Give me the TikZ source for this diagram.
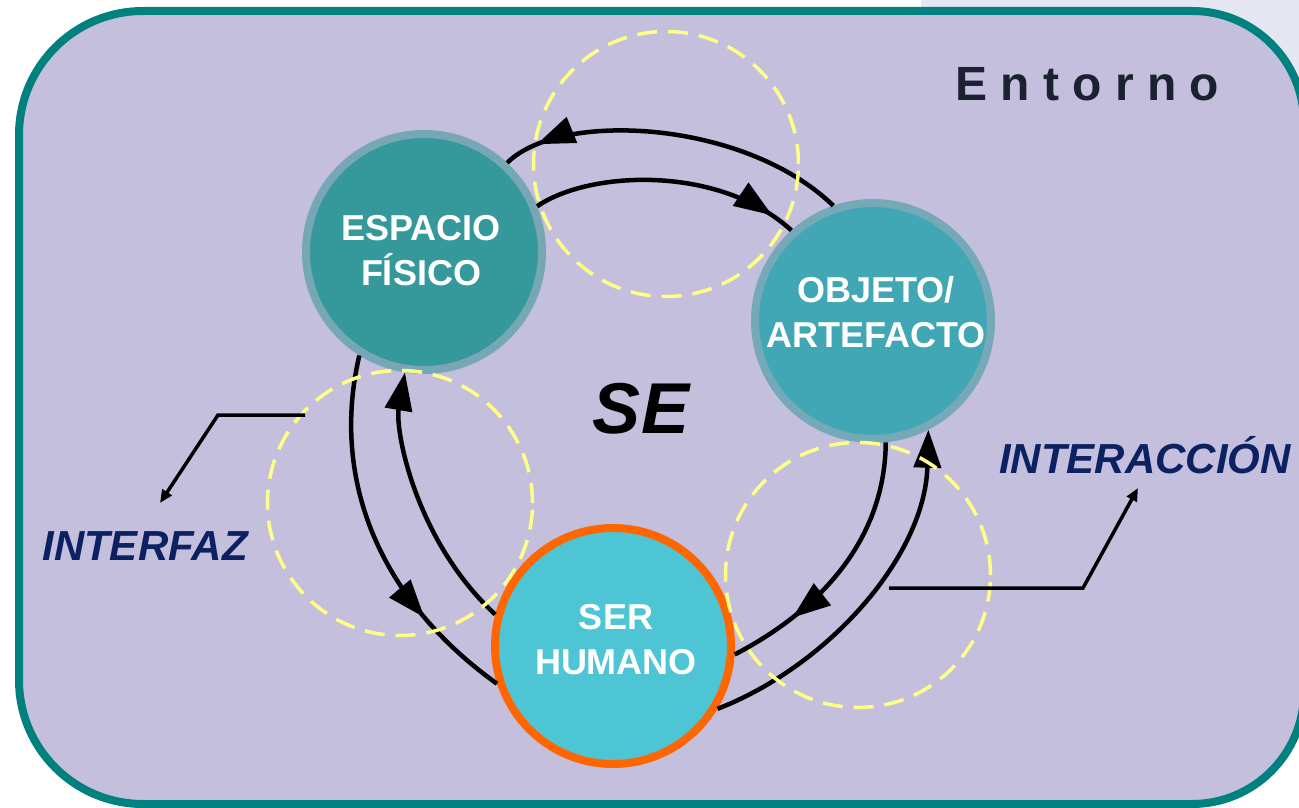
\documentclass[tikz,border=0pt]{standalone}
\usepackage{fontspec}
\setmainfont{Liberation Sans}
\usetikzlibrary{arrows.meta,decorations.markings}

\definecolor{bgfill}{HTML}{C3BFDD}
\definecolor{frame}{HTML}{00807F}
\definecolor{pagegrey}{HTML}{E4E7F1}
\definecolor{espfill}{HTML}{35989A}
\definecolor{espring}{HTML}{76A7B4}
\definecolor{objfill}{HTML}{41A7B5}
\definecolor{objring}{HTML}{76A9B8}
\definecolor{serfill}{HTML}{4EC5D5}
\definecolor{serring}{HTML}{FF6600}
\definecolor{dashyel}{HTML}{FFFF88}
\definecolor{navy}{HTML}{0B2162}
\definecolor{entcol}{HTML}{1C2131}

\begin{document}
\begin{tikzpicture}[x=1pt,y=-1pt,
  bignode/.style={circle, minimum size=236pt, inner sep=0pt, line width=8pt},
  nodetext/.style={text=white, font=\fontsize{36}{45}\selectfont\bfseries, align=center, inner sep=0pt},
  zone/.style={circle, draw=dashyel, line width=3.5pt, dash pattern=on 20pt off 11pt, minimum size=265pt, inner sep=0pt},
  flow/.style={line width=4.5pt, draw=black},
  endhead/.style={-{Triangle[length=38pt,width=27pt]}},
  midhead/.style={postaction={decorate}, decoration={markings, mark=at position #1 with {\arrow{Triangle[length=38pt,width=27pt]}}}},
  leader/.style={line width=3.5pt, draw=black, -{Triangle[length=13pt,width=11pt]}},
  tag/.style={text=navy, font=\fontsize{42}{50}\selectfont\bfseries\itshape, inner sep=0pt},
]
\useasboundingbox (0,0) rectangle (1299,808);
\clip (0,0) rectangle (1299,808);
\fill[white] (0,0) rectangle (1299,808);
\fill[pagegrey] (921,0) rectangle (1299,404);

% frame (Entorno)
\path[fill=bgfill, draw=frame, line width=8pt]
  [rounded corners=124pt] (19,400) |- (660,11)
  [rounded corners=112pt] -| (1304,400) |- (660,804)
  [rounded corners=124pt] -| (19,400) -- cycle;

% main nodes
\node[bignode, fill=espfill, draw=espring] (esp) at (424,252) {};
\node[bignode, fill=objfill, draw=objring] (obj) at (873,321) {};
\node[bignode, fill=serfill, draw=serring] (ser) at (613,646) {};

% flows
\draw[flow, midhead=0.9] (obj.109) .. controls (745,120) and (560,110) .. (esp.47);
\draw[flow, midhead=0.91] (esp.22) .. controls (590,170) and (720,165) .. (obj.132);
\draw[flow, midhead=0.74] (esp.238) .. controls (330,480) and (380,600) .. (ser.198);
\draw[flow, endhead] (ser.165) .. controls (415,540) and (395,430) .. (esp.261);
\draw[flow, midhead=0.75] (obj.-84) .. controls (885,540) and (820,610) .. (ser.-4);
\draw[flow, endhead] (ser.-31) .. controls (830,665) and (925,555) .. (obj.-63);

% interface zones
\node[zone] (ztop) at (666,164) {};
\node[zone] (zleft) at (400,503) {};
\node[zone] (zright) at (858,575) {};

% leaders
\coordinate (ifzFrom) at (305,415);
\coordinate (ifzBend) at (218,415);
\coordinate (ifzTo) at (160,503);
\draw[leader] (ifzFrom) -- (ifzBend) -- (ifzTo);
\coordinate (iacFrom) at (889,588);
\coordinate (iacBend) at (1083,588);
\coordinate (iacTo) at (1138,488);
\draw[leader] (iacFrom) -- (iacBend) -- (iacTo);

% texts
\node[nodetext] (espT) at (421,251) {ESPACIO\\FÍSICO};
\node[nodetext] (objT) at (876,312) {OBJETO/\\ARTEFACTO};
\node[nodetext] (serT) at (616,640) {SER\\HUMANO};
\node[tag, anchor=base] (ifz) at (145,560) {INTERFAZ};
\node[tag, anchor=base] (iac) at (1145,473) {INTERACCIÓN};
\node[anchor=base west, inner sep=0pt, text=entcol, font=\fontsize{48}{58}\selectfont\bfseries] (ent) at (955,100) {E n t o r n o};
\node[anchor=base, inner sep=0pt, font=\fontsize{72}{86}\selectfont\bfseries\itshape] (se) at (641,433) {SE};
\end{tikzpicture}
\end{document}
